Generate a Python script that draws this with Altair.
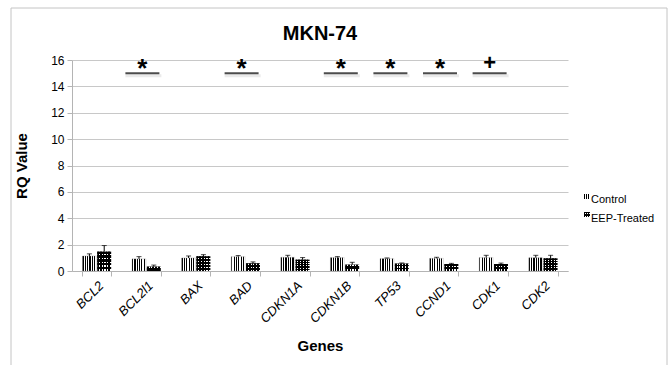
import altair as alt
import pandas as pd

chart_title = ["MKN-74"]
genes = ["BCL2", "BCL2l1", "BAX", "BAD", "CDKN1A", "CDKN1B", "TP53", "CCND1", "CDK1", "CDK2"]
series = ["Control", "EEP-Treated"]
control = [1.14, 0.92, 0.99, 1.09, 1.04, 1.02, 0.94, 0.96, 1.02, 1.01]
control_err = [0.16, 0.17, 0.15, 0.08, 0.15, 0.07, 0.05, 0.08, 0.17, 0.18]
treated = [1.47, 0.33, 1.12, 0.58, 0.86, 0.48, 0.56, 0.53, 0.53, 0.96]
treated_err = [0.46, 0.12, 0.12, 0.11, 0.16, 0.18, 0.05, 0.05, 0.07, 0.23]
sig_genes = ["BCL2l1", "BAD", "CDKN1B", "TP53", "CCND1", "CDK1"]
sig_marks = ["*", "*", "*", "*", "*", "+"]
sig_level = 15.0
y_ticks = [0, 2, 4, 6, 8, 10, 12, 14, 16]

rows = []
for i, g in enumerate(genes):
    rows.append(dict(gene=g, series=series[0], value=control[i], err_top=control[i] + control_err[i]))
    rows.append(dict(gene=g, series=series[1], value=treated[i], err_top=treated[i] + treated_err[i]))
df = pd.DataFrame(rows)
sig = pd.DataFrame(dict(gene=sig_genes, mark=sig_marks, level=[sig_level] * len(sig_genes)))
leg = pd.DataFrame(dict(series=series))
frame = pd.DataFrame(dict(title=chart_title))


def stripes(n, horizontal=False, c1="black", c2="white", duty=0.5):
    stops = []
    for i in range(n):
        a = i / n
        m = (i + duty) / n
        b = (i + 1) / n
        stops += [{"offset": a, "color": c1}, {"offset": m, "color": c1},
                  {"offset": m, "color": c2}, {"offset": b, "color": c2}]
    if horizontal:
        return {"gradient": "linear", "stops": stops, "x1": 0, "x2": 0, "y1": 0, "y2": 1}
    return {"gradient": "linear", "stops": stops, "x1": 0, "x2": 1, "y1": 0, "y2": 0}


GRAY = "#b4b4b4"
x_axis = alt.Axis(title="Genes", labelAngle=-45, labelFontStyle="italic", labelFontSize=13,
                  labelColor="black", tickBand="extent", domainColor=GRAY, tickColor=GRAY,
                  tickSize=5, grid=False, titleFontSize=15, titleFontWeight="bold",
                  titleColor="black", titlePadding=13, labelPadding=3)
X = alt.X("gene:N", sort=genes, scale=alt.Scale(paddingInner=0.42, paddingOuter=0.21), axis=x_axis)
XO = alt.XOffset("series:N", sort=series, scale=alt.Scale(domain=series, paddingInner=0.06))

y_axis = alt.Axis(values=y_ticks, title="RQ Value", grid=True, gridColor="#c8c8c8", domainColor=GRAY,
                  tickColor=GRAY, tickSize=5, labelFontSize=12, labelColor="black", labelPadding=3,
                  titleFontSize=15, titleFontWeight="bold", titleColor="black", titlePadding=21)
yscale = alt.Scale(domain=[0, 16], nice=False)


def Y(field):
    return alt.Y(f"{field}:Q", scale=yscale, axis=y_axis)


base = alt.Chart(df).encode(x=X, xOffset=XO)

frame_layer = alt.Chart(frame).mark_rect(fillOpacity=0, stroke="#c4c4c4", strokeWidth=1).encode(
    x=alt.value(-61), x2=alt.value(595), y=alt.value(-52), y2=alt.value(330))
title_layer = alt.Chart(frame).mark_text(fontSize=20, fontWeight="bold", baseline="middle",
                                         align="center").encode(
    x=alt.value(248), y=alt.value(-26), text="title:N")

ctrl = base.transform_filter(alt.datum.series == series[0]).mark_bar(
    fill=stripes(6), stroke="#999", strokeWidth=0.3).encode(y=Y("value"))
trt = base.transform_filter(alt.datum.series == series[1]).mark_bar(
    fill=stripes(5, duty=0.6)).encode(y=Y("value"))
trt_over = base.transform_filter(alt.datum.series == series[1]).mark_bar(
    fill=stripes(5, horizontal=True, c1="black", c2="rgba(0,0,0,0)", duty=0.55)).encode(y=Y("value"))
err = base.mark_rule(color="black", strokeWidth=1).encode(y=Y("value"), y2=alt.Y2("err_top"))
cap = base.mark_tick(color="black", thickness=1, size=5).encode(y=Y("err_top"))

sig_base = alt.Chart(sig).encode(x=X)
shadow = sig_base.mark_tick(color="#888", opacity=0.18, thickness=3, size=36, yOffset=2.5,
                            xOffset=-3).encode(y=Y("level"))
line = sig_base.mark_tick(color="black", thickness=2, size=34, xOffset=-4).encode(y=Y("level"))
stars = sig_base.transform_filter(alt.datum.mark == "*").mark_text(
    fontSize=26, fontWeight="bold", baseline="alphabetic", dy=4, dx=-4).encode(y=Y("level"), text="mark:N")
plus = sig_base.transform_filter(alt.datum.mark == "+").mark_text(
    fontSize=22, fontWeight="bold", baseline="alphabetic", dy=-3, dx=-4).encode(y=Y("level"), text="mark:N")

leg_base = alt.Chart(leg)
leg_c = leg_base.transform_filter(alt.datum.series == series[0]).mark_rect(fill=stripes(3)).encode(
    x=alt.value(512), x2=alt.value(518), y=alt.value(134), y2=alt.value(139))
leg_t = leg_base.transform_filter(alt.datum.series == series[1]).mark_rect(fill=stripes(3, duty=0.6)).encode(
    x=alt.value(512), x2=alt.value(518), y=alt.value(152), y2=alt.value(157))
leg_t2 = leg_base.transform_filter(alt.datum.series == series[1]).mark_rect(
    fill=stripes(3, horizontal=True, c1="black", c2="rgba(0,0,0,0)", duty=0.6)).encode(
    x=alt.value(512), x2=alt.value(518), y=alt.value(152), y2=alt.value(157))
leg_txt1 = leg_base.transform_filter(alt.datum.series == series[0]).mark_text(
    align="left", baseline="middle", fontSize=11).encode(x=alt.value(519), y=alt.value(140), text="series:N")
leg_txt2 = leg_base.transform_filter(alt.datum.series == series[1]).mark_text(
    align="left", baseline="middle", fontSize=11).encode(x=alt.value(519), y=alt.value(159), text="series:N")

chart = alt.layer(
    frame_layer, title_layer, ctrl, trt, trt_over, err, cap, shadow, line, stars, plus,
    leg_c, leg_t, leg_t2, leg_txt1, leg_txt2
).properties(
    width=496, height=211,
    autosize=alt.AutoSizeParams(type="none"),
    padding={"left": 72, "top": 60, "right": 103, "bottom": 94},
).configure(font="Liberation Sans").configure_view(strokeWidth=0)

chart.save("out.html", embed_options={"renderer": "svg", "actions": False})
